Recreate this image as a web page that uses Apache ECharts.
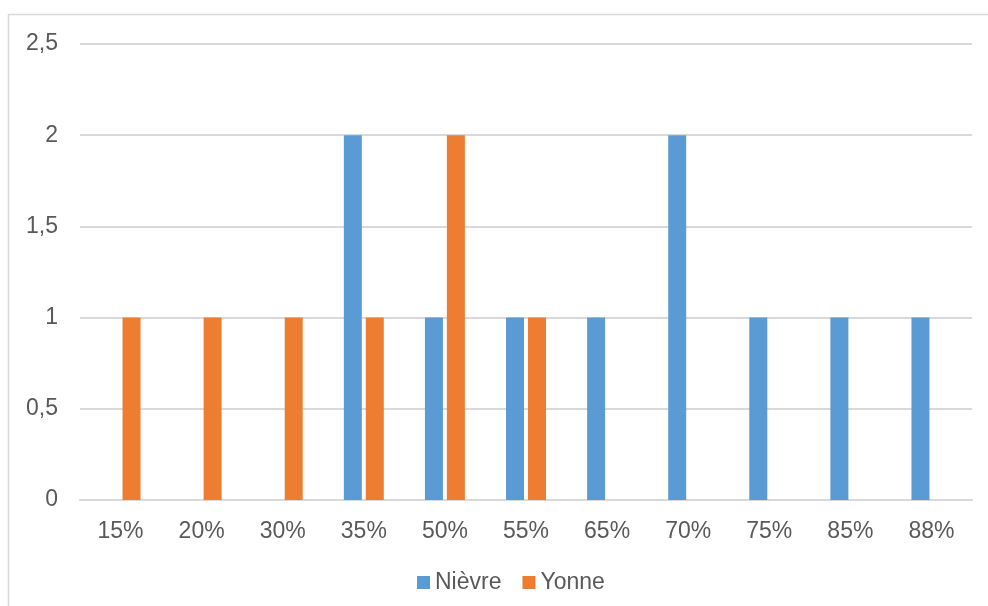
<!DOCTYPE html>
<html><head><meta charset="utf-8">
<script src="https://cdn.jsdelivr.net/npm/echarts@6/dist/echarts.min.js"></script>
<style>html,body{margin:0;padding:0;background:#fff}#c{width:988px;height:606px}</style>
</head><body><div id="c"></div>
<script>
const categories = ['15%','20%','30%','35%','50%','55%','65%','70%','75%','85%','88%'];
const nievre = [0,0,0,2,1,1,1,2,1,1,1];
const yonne  = [1,1,1,1,2,1,0,0,0,0,0];
const seriesNames = ['Nièvre','Yonne'];

const chart = echarts.init(document.getElementById('c'));
const font = 'Liberation Sans, Arial, sans-serif';
chart.setOption({
  animation:false,
  backgroundColor:'#fff',
  graphic:[{type:'rect',shape:{x:8.5,y:14.5,width:1000,height:700},style:{fill:'none',stroke:'#d9d9d9',lineWidth:1.5},silent:true}],
  grid:{left:80,right:16,top:44,bottom:106,containLabel:false},
  legend:{top:566,left:412,itemWidth:13,itemHeight:13,itemGap:21,icon:'rect',
    textStyle:{fontFamily:font,fontSize:23,color:'#595959'},data:seriesNames},
  xAxis:{type:'category',data:categories,
    axisLine:{lineStyle:{color:'#d9d9d9',width:2}},axisTick:{show:false},
    axisLabel:{fontFamily:font,fontSize:23,color:'#595959',margin:20}},
  yAxis:{type:'value',min:0,max:2.5,interval:0.5,
    axisLine:{show:false},axisTick:{show:false},
    splitLine:{lineStyle:{color:'#d9d9d9',width:2}},
    axisLabel:{fontFamily:font,fontSize:23,color:'#595959',margin:22,
      formatter:v=>String(v).replace('.',',')}},
  series:[
    {name:seriesNames[0],type:'bar',data:nievre,barWidth:18,barGap:'22%',itemStyle:{color:'#5B9BD5'}},
    {name:seriesNames[1],type:'bar',data:yonne,barWidth:18,barGap:'22%',itemStyle:{color:'#ED7D31'}}
  ]
});
</script></body></html>
